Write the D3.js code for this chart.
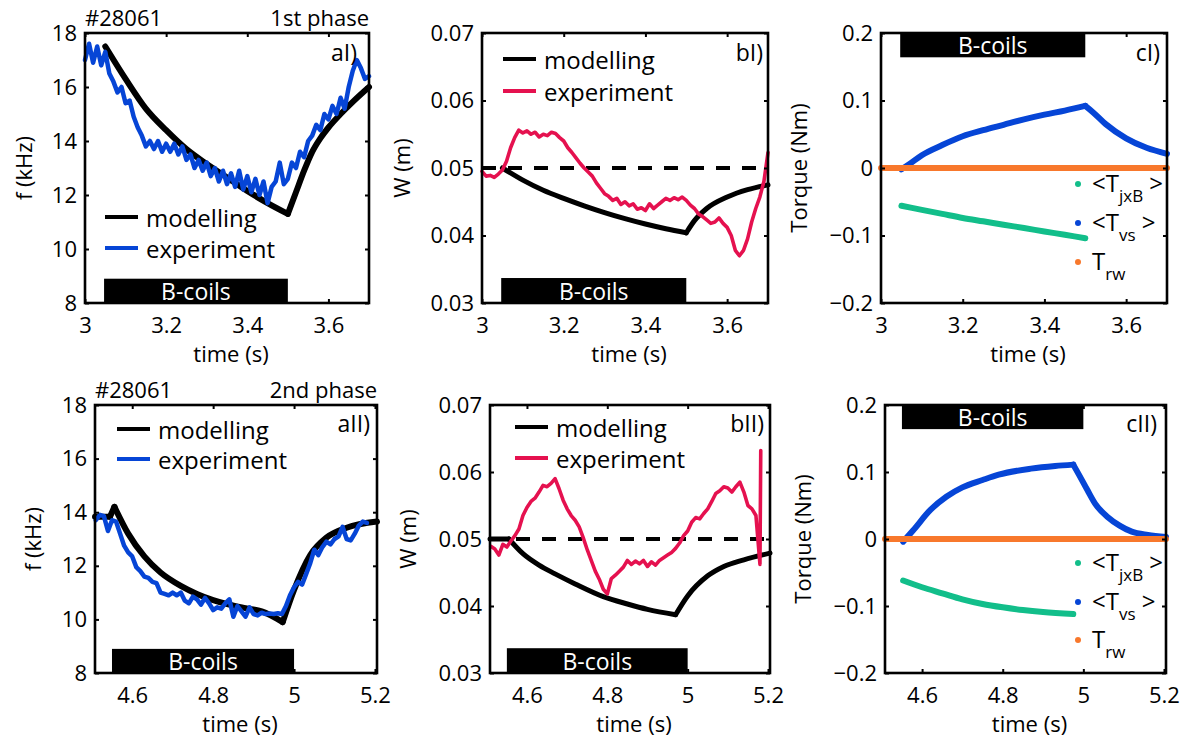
<!DOCTYPE html>
<html>
<head>
<meta charset="utf-8">
<script src="https://cdn.jsdelivr.net/npm/d3@7"></script>
<style>
  body { margin: 0; background: #fff; }
  svg text { font-family: "Open Sans", "Noto Sans", sans-serif; fill: #000; }
</style>
</head>
<body>
<svg id="fig" width="1186" height="740"></svg>
<script>
// ---- tick values ----
const xTicksI = [3, 3.2, 3.4, 3.6];
const xTicksII = [4.6, 4.8, 5, 5.2];
const fTicks = [8, 10, 12, 14, 16, 18];
const wTicks = [0.03, 0.04, 0.05, 0.06, 0.07];
const torqueTicks = [-0.2, -0.1, 0, 0.1, 0.2];

// ---- B-coil windows (s) and island width reference ----
const bCoilsI = [3.047, 3.5];
const bCoilsII = [4.55, 5.0];
const wRef = 0.05;

// ---- experiment traces, sampled every 0.01 s ----
const expDt = 0.01;
const expStartI = 3.0;
const expStartII = 4.51;

const fExpI = [17.0, 17.6, 16.9, 17.5, 16.8, 17.3, 16.5, 16.2, 15.8, 16.0,
  15.4, 15.5, 14.9, 14.5, 14.2, 13.8, 14.0, 13.7, 14.0, 13.6,
  13.9, 13.6, 13.9, 13.5, 13.8, 13.3, 13.5, 13.0, 13.3, 12.9,
  13.2, 12.7, 13.0, 12.5, 12.9, 12.4, 12.8, 12.3, 12.9, 12.2,
  12.7, 12.1, 12.6, 12.0, 12.5, 11.7, 12.3, 12.5, 13.2, 12.4,
  12.6, 13.2, 13.0, 13.6, 13.4, 14.0, 14.2, 14.6, 14.4, 15.0,
  14.8, 15.3, 15.0, 15.6, 15.2, 16.0, 16.6, 17.0, 16.7, 16.3,
  16.4];

const fExpII = [13.7, 13.9, 13.85, 13.3, 13.7, 13.65, 13.2, 12.75, 12.5, 12.35,
  11.95, 11.8, 11.6, 11.55, 11.4, 11.35, 11.0, 10.95, 10.9, 11.0,
  10.9, 11.0, 10.7, 10.6, 10.85, 10.75, 10.55, 10.8, 10.6, 10.35,
  10.45, 10.4, 10.6, 10.75, 10.1, 10.5, 10.3, 10.1, 10.45, 10.2,
  10.15, 10.25, 10.2, 10.22, 10.2, 10.23, 10.2, 10.5, 10.9, 11.2,
  11.4, 11.3, 11.7, 12.1, 12.6, 12.4, 12.7, 12.9, 12.8, 13.0,
  13.1, 13.45, 13.0, 12.95, 13.2, 13.5, 13.65, 13.6];

const wExpI = [0.0495, 0.0488, 0.0489, 0.0486, 0.0491, 0.0497, 0.0510, 0.0530, 0.0545, 0.0556,
  0.0552, 0.0555, 0.0550, 0.0553, 0.0546, 0.0550, 0.0548, 0.0553, 0.0551, 0.0545,
  0.0540, 0.0530, 0.0523, 0.0515, 0.0507, 0.0500, 0.0494, 0.0488, 0.0478, 0.0470,
  0.0462, 0.0458, 0.0452, 0.0455, 0.0446, 0.0450, 0.0444, 0.0447, 0.0439, 0.0441,
  0.0437, 0.0447, 0.0440, 0.0445, 0.0450, 0.0455, 0.0452, 0.0456, 0.0453, 0.0457,
  0.0452, 0.0445, 0.0440, 0.0432, 0.0428, 0.0423, 0.0418, 0.0420, 0.0426, 0.0418,
  0.0412, 0.0400, 0.0378, 0.0370, 0.0378, 0.0395, 0.0420, 0.0440, 0.0457, 0.0480,
  0.0523];

const wExpII = [0.0489, 0.0485, 0.0476, 0.0492, 0.0488, 0.0497, 0.0505, 0.0515, 0.0535, 0.0547,
  0.0556, 0.0561, 0.0570, 0.0580, 0.0578, 0.0583, 0.0590, 0.0575, 0.0558, 0.0545,
  0.0535, 0.0528, 0.0518, 0.0502, 0.0484, 0.0468, 0.0452, 0.0440, 0.0425, 0.0418,
  0.0441, 0.0446, 0.0452, 0.0458, 0.0468, 0.0462, 0.0467, 0.0463, 0.0468, 0.0459,
  0.0466, 0.0461, 0.0468, 0.0472, 0.0476, 0.0480, 0.0486, 0.0494, 0.0505, 0.0512,
  0.0525, 0.0532, 0.0530, 0.0538, 0.0545, 0.0556, 0.0568, 0.0572, 0.0578, 0.0576,
  0.0570, 0.0578, 0.0585, 0.0570, 0.0550, 0.0545, 0.0535, 0.0462];
// final spike at the end of the second phase
const wExpIISpikeT = [5.182];
const wExpIISpike = [0.0632];

// ---- modelling curves ----
const modelFIT = [3.05, 3.1, 3.15, 3.2, 3.25, 3.3, 3.35, 3.4, 3.45, 3.5, 3.52, 3.54, 3.56, 3.58, 3.6, 3.63, 3.66, 3.7];
const modelFI = [17.5, 16.3, 15.2, 14.4, 13.7, 13.15, 12.65, 12.15, 11.7, 11.3, 12.1, 12.9, 13.6, 14.1, 14.5, 15.0, 15.45, 16.0];

const modelFIIT = [4.508, 4.545, 4.556, 4.59, 4.63, 4.67, 4.72, 4.76, 4.8, 4.84, 4.88, 4.92, 4.972, 5.0, 5.04, 5.08, 5.13, 5.205];
const modelFII = [13.83, 13.83, 14.2, 13.2, 12.35, 11.75, 11.25, 10.95, 10.72, 10.55, 10.42, 10.3, 9.9, 11.1, 12.4, 13.05, 13.42, 13.65];

const modelWIT = [3.05, 3.1, 3.15, 3.2, 3.25, 3.3, 3.35, 3.4, 3.45, 3.5, 3.52, 3.55, 3.6, 3.65, 3.7];
const modelWI = [0.0500, 0.0482, 0.0467, 0.0455, 0.0444, 0.0434, 0.0425, 0.0417, 0.0410, 0.0404, 0.0422, 0.0440, 0.0457, 0.0468, 0.0475];

const modelWIIT = [4.508, 4.555, 4.59, 4.63, 4.67, 4.72, 4.79, 4.85, 4.9, 4.97, 5.0, 5.05, 5.09, 5.14, 5.205];
const modelWII = [0.050, 0.050, 0.0478, 0.0461, 0.0448, 0.0433, 0.0414, 0.0403, 0.0395, 0.0387, 0.0415, 0.0445, 0.0459, 0.0469, 0.0479];

// ---- torques ----
const tvsIT = [3.05, 3.07, 3.1, 3.15, 3.2, 3.25, 3.3, 3.35, 3.4, 3.45, 3.5, 3.52, 3.55, 3.6, 3.65, 3.7];
const tvsI = [-0.002, 0.006, 0.019, 0.034, 0.047, 0.056, 0.064, 0.072, 0.079, 0.085, 0.092, 0.082, 0.065, 0.044, 0.030, 0.021];
const tjxbIT = [3.05, 3.1, 3.15, 3.2, 3.25, 3.3, 3.35, 3.4, 3.45, 3.5];
const tjxbI = [-0.056, -0.062, -0.068, -0.074, -0.079, -0.084, -0.089, -0.094, -0.099, -0.104];
const trwIT = [3.0, 3.7];
const trwI = [0, 0];

const tvsIIT = [4.553, 4.578, 4.62, 4.66, 4.70, 4.75, 4.79, 4.87, 4.93, 4.975, 4.99, 5.01, 5.03, 5.06, 5.09, 5.12, 5.16, 5.205];
const tvsII = [-0.004, 0.013, 0.043, 0.063, 0.077, 0.088, 0.096, 0.105, 0.109, 0.111, 0.095, 0.073, 0.052, 0.033, 0.020, 0.011, 0.006, 0.003];
const tjxbIIT = [4.553, 4.6, 4.65, 4.7, 4.75, 4.8, 4.85, 4.9, 4.975];
const tjxbII = [-0.062, -0.072, -0.081, -0.090, -0.097, -0.102, -0.106, -0.109, -0.112];
const trwIIT = [4.508, 5.205];
const trwII = [0, 0];

// colours
const cBlue = '#0645d6';
const cRed = '#e5114f';
const cGreen = '#12be8a';
const cOrange = '#f8782c';

const FONT = 22;
const svg = d3.select('#fig');

function pairs(ts, vs) { return vs.map((v, i) => [ts[i], v]); }
function sampled(start, vs) { return vs.map((v, i) => [start + i * expDt, v]); }
// split a curve at its corner points so the smooth curve keeps sharp kinks
function pieces(pts, kinks) {
  const cuts = [0, ...kinks, pts.length - 1];
  const out = [];
  for (let i = 0; i < cuts.length - 1; i++) out.push(pts.slice(cuts[i], cuts[i + 1] + 1));
  return out;
}

function makePanel(b, xDomain, xTicks, yDomain, yTicks, yFmt) {
  const x = d3.scaleLinear().domain(xDomain).range([b.left, b.right]);
  const y = d3.scaleLinear().domain(yDomain).range([b.bottom, b.top]);
  const g = svg.append('g');
  return { b, x, y, g, xTicks, yTicks, yFmt };
}

function drawAxes(p, yTitle, yTitleX) {
  const { b, x, y, g } = p;
  const fmtX = d => String(d);
  const axes = [
    g.append('g').attr('transform', `translate(0,${b.bottom})`)
      .call(d3.axisBottom(x).tickValues(p.xTicks).tickSize(-4).tickPadding(14).tickFormat(fmtX)),
    g.append('g').attr('transform', `translate(0,${b.top})`)
      .call(d3.axisTop(x).tickValues(p.xTicks).tickSize(-4).tickFormat('')),
    g.append('g').attr('transform', `translate(${b.left},0)`)
      .call(d3.axisLeft(y).tickValues(p.yTicks).tickSize(-4).tickPadding(8).tickFormat(p.yFmt)),
    g.append('g').attr('transform', `translate(${b.right},0)`)
      .call(d3.axisRight(y).tickValues(p.yTicks).tickSize(-4).tickFormat(''))
  ];
  axes.forEach(a => {
    a.select('.domain').remove();
    a.attr('font-family', null).attr('font-size', null);
    a.selectAll('line').attr('stroke', '#000').attr('stroke-width', 2);
    a.selectAll('text').style('font-size', FONT + 'px').attr('fill', '#000');
  });
  g.append('rect')
    .attr('x', b.left).attr('y', b.top)
    .attr('width', b.right - b.left).attr('height', b.bottom - b.top)
    .attr('fill', 'none').attr('stroke', '#000').attr('stroke-width', 2.6);
  g.append('text')
    .attr('x', (b.left + b.right) / 2 + 4).attr('y', b.bottom + 59)
    .attr('text-anchor', 'middle').style('font-size', FONT + 'px')
    .text('time (s)');
  g.append('text')
    .attr('transform', `translate(${yTitleX},${(b.top + b.bottom) / 2}) rotate(-90)`)
    .attr('text-anchor', 'middle').style('font-size', FONT + 'px')
    .text(yTitle);
}

function bCoils(p, win, yLo, yHi) {
  const { x, y, g } = p;
  g.append('rect')
    .attr('x', x(win[0])).attr('width', x(win[1]) - x(win[0]))
    .attr('y', y(yHi)).attr('height', y(yLo) - y(yHi))
    .attr('fill', '#000');
  g.append('text')
    .attr('x', (x(win[0]) + x(win[1])) / 2).attr('y', (y(yLo) + y(yHi)) / 2)
    .attr('text-anchor', 'middle').attr('dominant-baseline', 'central')
    .style('font-size', (FONT + 1) + 'px').style('fill', '#fff')
    .text('B-coils');
}

function curve(p, pts, color, width, smooth, kinks, dash) {
  const line = d3.line().x(d => p.x(d[0])).y(d => p.y(d[1]))
    .curve(smooth ? d3.curveMonotoneX : d3.curveLinear);
  const parts = kinks ? pieces(pts, kinks) : [pts];
  parts.forEach(part => {
    p.g.append('path').attr('d', line(part))
      .attr('fill', 'none').attr('stroke', color).attr('stroke-width', width)
      .attr('stroke-linejoin', 'round').attr('stroke-linecap', dash ? 'butt' : 'round')
      .attr('stroke-dasharray', dash || null);
  });
}

function panelLabel(p, txt, xr, yc) {
  p.g.append('text').attr('x', xr).attr('y', yc)
    .attr('text-anchor', 'end').attr('dominant-baseline', 'central')
    .style('font-size', (FONT + 1) + 'px').text(txt);
}

function lineLegend(p, x0, y0, gap, color2) {
  const items = [['modelling', '#000'], ['experiment', color2]];
  items.forEach((it, i) => {
    const yy = y0 + i * gap;
    p.g.append('line').attr('x1', x0).attr('x2', x0 + 33).attr('y1', yy).attr('y2', yy)
      .attr('stroke', it[1]).attr('stroke-width', 4);
    p.g.append('text').attr('x', x0 + 41).attr('y', yy)
      .attr('dominant-baseline', 'central').style('font-size', (FONT + 2) + 'px').text(it[0]);
  });
}

function torqueLegend(p, x0, ys) {
  const items = [['jxB', cGreen, true], ['vs', cBlue, true], ['rw', cOrange, false]];
  items.forEach((it, i) => {
    p.g.append('circle').attr('cx', x0).attr('cy', ys[i]).attr('r', 3).attr('fill', it[1]);
    const t = p.g.append('text').attr('x', x0 + 14).attr('y', ys[i] + 8).style('font-size', (FONT + 2) + 'px');
    t.append('tspan').text(it[2] ? '<T' : 'T');
    t.append('tspan').attr('dy', 10).style('font-size', (FONT - 5) + 'px').text(it[0]);
    if (it[2]) t.append('tspan').attr('dy', -10).text(' >');
  });
}

function header(p, phase) {
  p.g.append('text').attr('x', p.b.left).attr('y', p.b.top - 7).style('font-size', FONT + 'px').text('#28061');
  p.g.append('text').attr('x', p.b.right).attr('y', p.b.top - 7)
    .attr('text-anchor', 'end').style('font-size', FONT + 'px').text(phase);
}

const fmtF = d3.format('d');
const fmtW = d3.format('.2f');
const fmtT = d => (d === 0 ? '0' : d3.format('.1f')(d));

// ---------- row I ----------
const aI = makePanel({ left: 85, top: 33, right: 369, bottom: 303 }, [3, 3.7], xTicksI, [8, 18], fTicks, fmtF);
bCoils(aI, bCoilsI, 8, 8.9);
curve(aI, pairs(modelFIT, modelFI), '#000', 6, true, [9]);
curve(aI, sampled(expStartI, fExpI), cBlue, 4.5, false);
lineLegend(aI, 105, 217, 31, cBlue);
panelLabel(aI, 'aI)', 357, 52);
header(aI, '1st phase');
drawAxes(aI, 'f (kHz)', 32);

const bI = makePanel({ left: 482, top: 33, right: 768, bottom: 303 }, [3, 3.7], xTicksI, [0.03, 0.07], wTicks, fmtW);
bCoils(bI, bCoilsI, 0.03, 0.0337);
curve(bI, [[3, wRef], [3.7, wRef]], '#000', 4, false, null, '14,12');
curve(bI, pairs(modelWIT, modelWI), '#000', 5, true, [9]);
curve(bI, sampled(expStartI, wExpI), cRed, 3.6, false);
lineLegend(bI, 503, 59, 32, cRed);
panelLabel(bI, 'bI)', 763, 52);
drawAxes(bI, 'W (m)', 410);

const cI = makePanel({ left: 881, top: 33, right: 1167, bottom: 303 }, [3, 3.7], xTicksI, [-0.2, 0.2], torqueTicks, fmtT);
bCoils(cI, bCoilsI, 0.164, 0.2);
curve(cI, pairs(tvsIT, tvsI), cBlue, 6, true, [10]);
curve(cI, pairs(tjxbIT, tjxbI), cGreen, 6, true);
curve(cI, pairs(trwIT, trwI), cOrange, 6, false);
torqueLegend(cI, 1078, [184, 223, 262]);
panelLabel(cI, 'cI)', 1160, 52);
drawAxes(cI, 'Torque (Nm)', 807);

// ---------- row II ----------
const aII = makePanel({ left: 95, top: 405, right: 377, bottom: 673 }, [4.508, 5.205], xTicksII, [8, 18], fTicks, fmtF);
bCoils(aII, bCoilsII, 8, 8.9);
curve(aII, pairs(modelFIIT, modelFII), '#000', 6, true, [1, 2, 12]);
curve(aII, sampled(expStartII, fExpII), cBlue, 4.5, false);
lineLegend(aII, 117, 429, 30, cBlue);
panelLabel(aII, 'aII)', 370, 423);
header(aII, '2nd phase');
drawAxes(aII, 'f (kHz)', 41);

const bII = makePanel({ left: 490, top: 405, right: 770, bottom: 673 }, [4.508, 5.205], xTicksII, [0.03, 0.07], wTicks, fmtW);
bCoils(bII, bCoilsII, 0.03, 0.0337);
curve(bII, [[4.508, wRef], [5.205, wRef]], '#000', 4, false, null, '14,12');
curve(bII, pairs(modelWIIT, modelWII), '#000', 5, true, [1, 9]);
curve(bII, sampled(expStartII, wExpII).concat(pairs(wExpIISpikeT, wExpIISpike)), cRed, 3.6, false);
lineLegend(bII, 515, 427, 31, cRed);
panelLabel(bII, 'bII)', 764, 423);
drawAxes(bII, 'W (m)', 416);

const cII = makePanel({ left: 885, top: 405, right: 1166, bottom: 673 }, [4.508, 5.205], xTicksII, [-0.2, 0.2], torqueTicks, fmtT);
bCoils(cII, bCoilsII, 0.164, 0.2);
curve(cII, pairs(tvsIIT, tvsII), cBlue, 6, true, [9]);
curve(cII, pairs(tjxbIIT, tjxbII), cGreen, 6, true);
curve(cII, pairs(trwIIT, trwII), cOrange, 6, false);
torqueLegend(cII, 1078, [563, 602, 640]);
panelLabel(cII, 'cII)', 1157, 423);
drawAxes(cII, 'Torque (Nm)', 811);
</script>
</body>
</html>
